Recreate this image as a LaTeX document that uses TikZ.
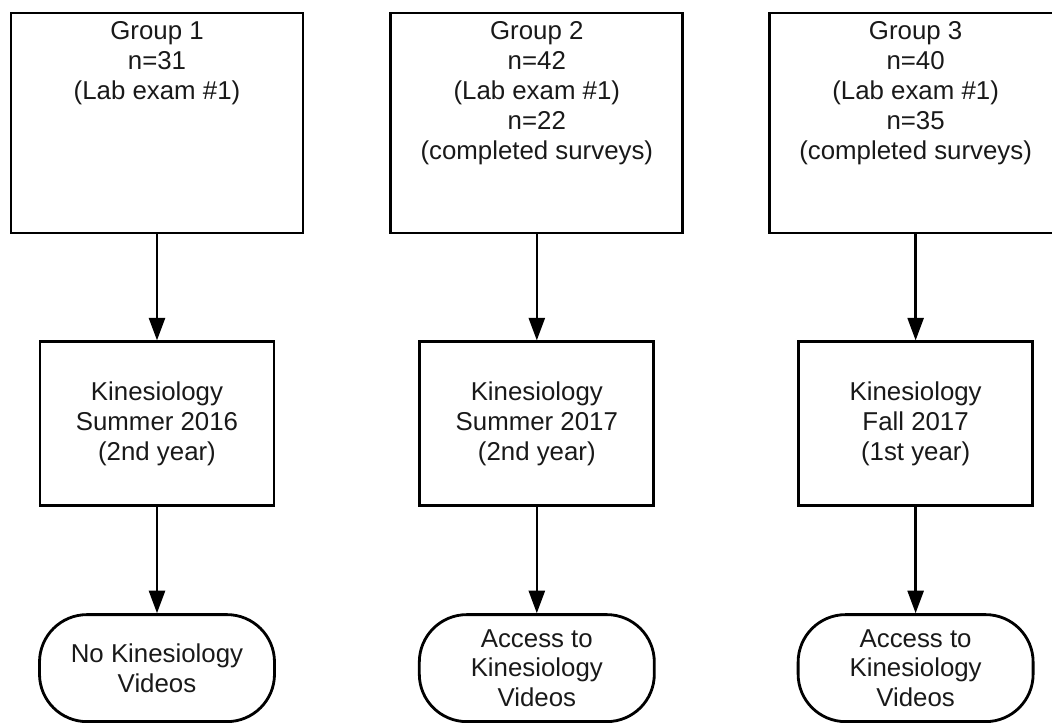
\documentclass[tikz,border=0pt]{standalone}
\usepackage{fontspec}
\setmainfont{Liberation Sans}
\usetikzlibrary{positioning,arrows.meta}

% top aligned text for the group boxes
\newcommand{\grouptext}[1]{\parbox[c][4.4cm][t]{5.84cm}{\centering\vspace*{5pt}#1}}

\begin{document}
\begin{tikzpicture}[node distance=2.12cm, font=\fontsize{14.7}{17}\selectfont]
    \tikzstyle{group} = [rectangle, draw=black, line width=1.6pt, inner sep=0pt, text=black!90]
    \tikzstyle{course} = [rectangle, draw=black, line width=1.6pt, minimum width=4.68cm, minimum height=3.28cm, align=center, text=black!90]
    \tikzstyle{videos} = [rectangle, rounded corners=0.95cm, draw=black, line width=1.6pt, minimum width=4.7cm, minimum height=2.14cm, align=center, text=black!90]
    \tikzstyle{flow} = [line width=1.4pt, -{Triangle[length=0.45cm, width=0.32cm]}]

    \path [use as bounding box, clip] (0,0) rectangle (21.04,-14.46);

    % Groups
    \node [group] (group1) at (3.14,-2.46) {\grouptext{Group 1\\n=31\\(Lab exam \#1)}};
    \node [group, right=1.70cm of group1] (group2) {\grouptext{Group 2\\n=42\\(Lab exam \#1)\\n=22\\(completed surveys)}};
    \node [group, right=1.68cm of group2] (group3) {\grouptext{Group 3\\n=40\\(Lab exam \#1)\\n=35\\(completed surveys)}};

    % Courses
    \node [course, below=of group1] (summer16) {Kinesiology\\Summer 2016\\(2nd year)};
    \node [course, below=of group2] (summer17) {Kinesiology\\Summer 2017\\(2nd year)};
    \node [course, below=of group3] (fall17) {Kinesiology\\Fall 2017\\(1st year)};

    % Video access
    \node [videos, below=of summer16] (novideos) {No Kinesiology\\Videos};
    \node [videos, below=of summer17] (videos2) {Access to\\Kinesiology\\Videos};
    \node [videos, below=of fall17] (videos3) {Access to\\Kinesiology\\Videos};

    % Connections
    \draw [flow] (group1) -- (summer16);
    \draw [flow] (group2) -- (summer17);
    \draw [flow] (group3) -- (fall17);

    \draw [flow] (summer16) -- (novideos);
    \draw [flow] (summer17) -- (videos2);
    \draw [flow] (fall17) -- (videos3);
\end{tikzpicture}
\end{document}
